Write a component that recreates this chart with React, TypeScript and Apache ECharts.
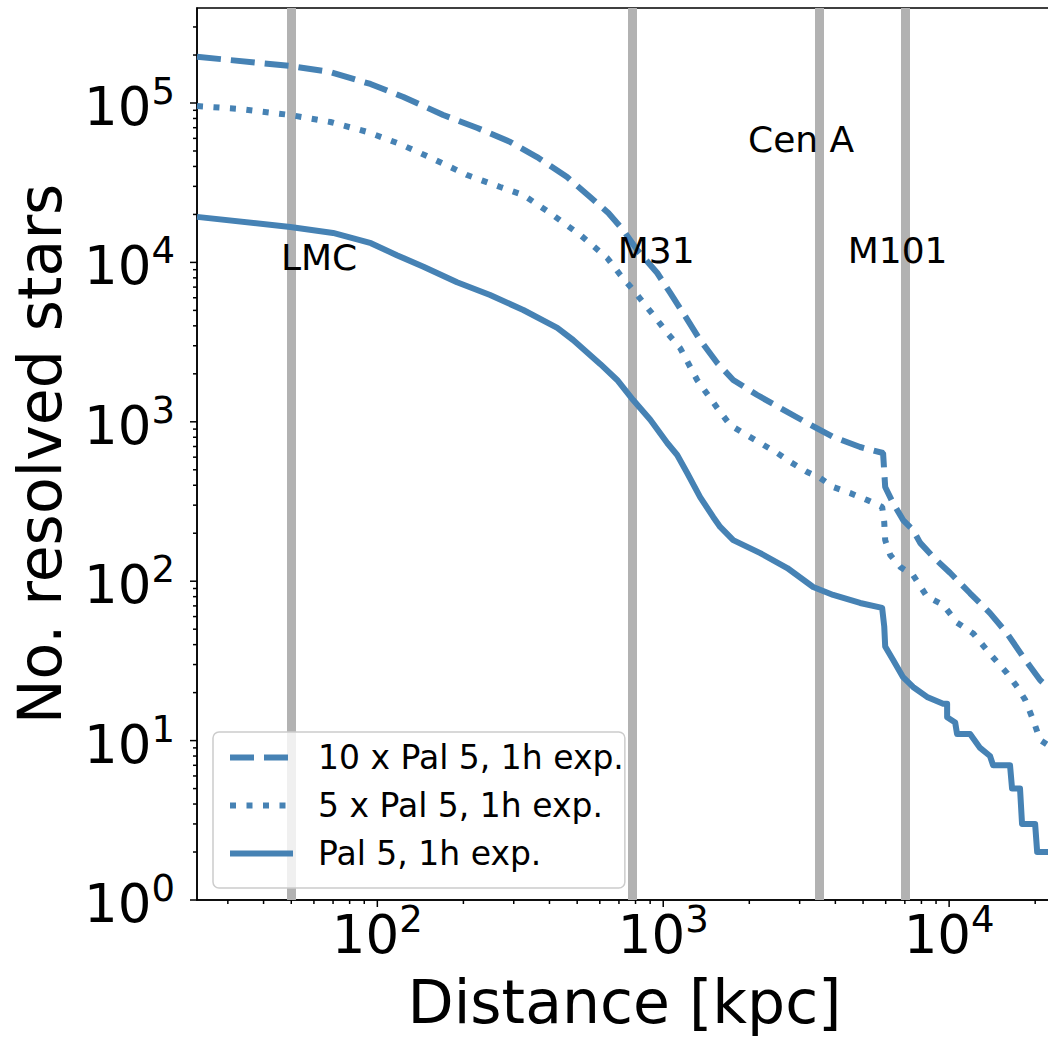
import React, { useEffect, useRef } from "react";
import * as echarts from "echarts";

const FONT = "DejaVu Sans";
const BLUE = "#4682b4";
const GREY = "#b2b2b2";

// Axis ranges
const X_MIN = 23.4;
const X_MAX = 22900;
const Y_MIN = 1;
const Y_MAX = 394500;

// Pal 5, 1h exposure
const pal5Dist = [
  23.4, 49.6, 70, 95, 117, 145, 190, 248, 324, 426, 484, 603, 690, 785, 901, 1033,
  1119, 1213, 1346, 1495, 1582, 1757, 2185, 2715, 3345, 3930, 4883, 5830, 5930, 5975,
  6370, 6900, 7480, 8370, 9530, 9840, 9840, 10500, 10660, 11840, 12830, 13900, 14250,
  16330, 16600, 17700, 17990, 19990, 20320, 23000,
];
const pal5Stars = [
  19300, 16700, 15300, 13200, 11100, 9400, 7500, 6240, 5030, 3880, 3260, 2300, 1830,
  1370, 1030, 736, 619, 477, 337, 253, 219, 181, 150, 121, 92, 82, 73, 68, 52, 39, 32,
  25, 21.7, 18.8, 17, 17, 14, 13, 11, 11, 9, 8, 7, 7, 5, 5, 3, 3, 2, 2,
];

// 5 x Pal 5, 1h exposure
const pal5x5Dist = [
  23.4, 33.2, 49.6, 68.5, 92.3, 120, 157, 206, 269, 324, 402, 513, 637, 708, 785, 923,
  1033, 1146, 1314, 1545, 1714, 1905, 2185, 2505, 2782, 3187, 3540, 3930, 4510, 5166,
  5832, 5929, 5975, 6223, 6745, 7480, 8372, 9528, 10660, 12140, 13900, 15950, 17300,
  18450, 19670, 20800, 22900,
];
const pal5x5Stars = [
  95700, 91700, 84100, 76000, 65800, 55300, 44550, 35330, 29720, 26480, 20400, 14860,
  10660, 8340, 6710, 4680, 3610, 2900, 1830, 1221, 955, 851, 736, 637, 560, 484, 444,
  390, 357, 323, 292, 235, 181, 146, 123, 109, 80, 71, 55, 47, 35, 26.5, 21.7, 18, 13.5,
  10.1, 9,
];

// 10 x Pal 5, 1h exposure
const pal5x10Dist = [
  23.4, 49.6, 68.5, 94.6, 123.4, 170, 224, 292, 362, 461, 555, 643, 724, 811, 953, 1058,
  1174, 1346, 1545, 1757, 2132, 2566, 3187, 3930, 4883, 5875, 5975, 6368, 6902, 7480,
  7920, 8790, 10070, 11840, 13900, 15950, 18150, 20800, 22900,
];
const pal5x10Stars = [
  195000, 170700, 156400, 131600, 109100, 84100, 69700, 56900, 45800, 34350, 25700,
  20400, 15960, 11960, 8580, 6430, 4815, 3260, 2340, 1830, 1473, 1221, 983, 803, 695,
  637, 390, 309, 242, 209, 174, 142, 113, 84, 63, 47, 33.5, 24, 20.5,
];

// Reference galaxies (kpc)
const galaxyNames = ["LMC", "M31", "Cen A", "M101"];
const galaxyDistances = [50, 780, 3500, 7000];
const galaxyLabelAnchors = [
  [46, 10700],
  [693, 11900],
  [1980, 59000],
  [4420, 11900],
];

// Legend entries
const seriesNames = ["10 x Pal 5, 1h exp.", "5 x Pal 5, 1h exp.", "Pal 5, 1h exp."];

// Tick values
const xMajorTicks = [100, 1000, 10000];
const xMinorTicks = [
  30, 40, 50, 60, 70, 80, 90, 200, 300, 400, 500, 600, 700, 800, 900, 2000, 3000, 4000,
  5000, 6000, 7000, 8000, 9000, 20000,
];
const yMajorTicks = [1, 10, 100, 1000, 10000, 100000];
const yMinorTicks: number[] = [];
for (let e = 0; e <= 5; e++) {
  for (let m = 2; m <= 9; m++) {
    const v = m * Math.pow(10, e);
    if (v < Y_MAX) yMinorTicks.push(v);
  }
}

const zip = (xs: number[], ys: number[]) => xs.map((x, i) => [x, ys[i]]);

function powerLabel(v: number): string {
  const e = Math.log10(v);
  const r = Math.round(e);
  if (Math.abs(e - r) > 1e-6) return "";
  return `{b|10}{s|${r}}`;
}

const richPow = {
  b: { fontSize: 53, fontFamily: FONT, color: "#000", lineHeight: 60, verticalAlign: "bottom" },
  s: { fontSize: 37, fontFamily: FONT, color: "#000", lineHeight: 37, verticalAlign: "top" },
};

function buildOption(): echarts.EChartsOption {
  const lineBase = {
    type: "line" as const,
    symbol: "none",
    showSymbol: false,
    silent: true,
    z: 3,
    itemStyle: { color: BLUE },
  };
  return {
    animation: false,
    backgroundColor: "#fff",
    grid: {
      left: 197,
      top: 8,
      width: 855,
      height: 892,
      show: true,
      borderColor: "#000",
      borderWidth: 1.5,
      backgroundColor: "transparent",
    },
    xAxis: {
      type: "log",
      logBase: 10,
      min: X_MIN,
      max: X_MAX,
      axisLine: { show: true, lineStyle: { color: "#000", width: 1.5 } },
      axisTick: { show: false },
      splitLine: { show: false },
      axisLabel: {
        formatter: (v: number) => powerLabel(v),
        rich: richPow as any,
        fontSize: 53,
        fontFamily: FONT,
        color: "#000",
        margin: 1,
      },
      name: "Distance [kpc]",
      nameLocation: "middle",
      nameGap: 72,
      nameTextStyle: { fontSize: 60, fontFamily: FONT, color: "#000" },
    },
    yAxis: {
      type: "log",
      logBase: 10,
      min: Y_MIN,
      max: Y_MAX,
      axisLine: { show: true, lineStyle: { color: "#000", width: 1.5 } },
      axisTick: { show: false },
      splitLine: { show: false },
      axisLabel: {
        formatter: (v: number) => powerLabel(v),
        rich: richPow as any,
        fontSize: 53,
        fontFamily: FONT,
        color: "#000",
        margin: 22,
      },
      name: "No. resolved stars",
      nameLocation: "middle",
      nameGap: 127,
      nameTextStyle: { fontSize: 60, fontFamily: FONT, color: "#000" },
    },
    legend: {
      data: seriesNames,
      orient: "vertical",
      left: 213,
      top: 732,
      itemWidth: 63,
      itemHeight: 14,
      itemGap: 15,
      padding: [9, 1, 18, 14],
      backgroundColor: "rgba(255,255,255,0.8)",
      borderColor: "#cccccc",
      borderWidth: 1.5,
      borderRadius: 6,
      lineStyle: { width: 6 },
      itemStyle: { color: "rgba(0,0,0,0)", borderWidth: 0, borderColor: "rgba(0,0,0,0)" },
      textStyle: { fontSize: 33, fontFamily: FONT, color: "#000", padding: [0, 0, 0, 20] },
      selectedMode: false,
    },
    series: [
      {
        type: "line",
        name: "galaxies",
        data: [],
        silent: true,
        z: 1,
        markLine: {
          silent: true,
          z: 1,
          symbol: ["none", "none"],
          label: { show: false },
          lineStyle: { color: GREY, width: 9, type: "solid" },
          emphasis: { disabled: true },
          data: galaxyDistances.map((d) => ({ xAxis: d })),
        },
      } as any,
      {
        ...lineBase,
        name: seriesNames[0],
        data: zip(pal5x10Dist, pal5x10Stars),
        lineStyle: { color: BLUE, width: 6, type: [24, 10], cap: "butt" },
      },
      {
        ...lineBase,
        name: seriesNames[1],
        data: zip(pal5x5Dist, pal5x5Stars),
        lineStyle: { color: BLUE, width: 6, type: [6, 10.5], cap: "butt" },
      },
      {
        ...lineBase,
        name: seriesNames[2],
        data: zip(pal5Dist, pal5Stars),
        lineStyle: { color: BLUE, width: 6, type: "solid", join: "round" },
      },
      {
        type: "scatter",
        name: "galaxy labels",
        silent: true,
        symbolSize: 0,
        z: 4,
        itemStyle: { opacity: 1 },
        data: galaxyLabelAnchors.map((p, i) => ({ value: p, name: galaxyNames[i] })),
        label: {
          show: true,
          formatter: "{b}",
          position: "right",
          distance: 0,
          align: "left",
          verticalAlign: "middle",
          fontSize: 36,
          fontFamily: FONT,
          color: "#000",
          opacity: 1,
          textBorderWidth: 0,
        },
      },
      {
        type: "custom",
        name: "x ticks",
        silent: true,
        clip: false,
        z: 6,
        encode: { x: 0, y: 1 },
        data: [
          ...xMajorTicks.map((v) => [v, Y_MIN, 1]),
          ...xMinorTicks.map((v) => [v, Y_MIN, 0]),
        ],
        renderItem: (params: any, api: any) => {
          const p = api.coord([api.value(0), Y_MIN]);
          const len = api.value(2) ? 7 : 4;
          return {
            type: "line",
            shape: { x1: p[0], y1: p[1], x2: p[0], y2: p[1] + len },
            style: { stroke: "#000", lineWidth: 1.5 },
          };
        },
      } as any,
      {
        type: "custom",
        name: "y ticks",
        silent: true,
        clip: false,
        z: 6,
        encode: { x: 0, y: 1 },
        data: [
          ...yMajorTicks.map((v) => [X_MIN, v, 1]),
          ...yMinorTicks.map((v) => [X_MIN, v, 0]),
        ],
        renderItem: (params: any, api: any) => {
          const p = api.coord([X_MIN, api.value(1)]);
          const len = api.value(2) ? 7 : 4;
          return {
            type: "line",
            shape: { x1: p[0], y1: p[1], x2: p[0] - len, y2: p[1] },
            style: { stroke: "#000", lineWidth: 1.5 },
          };
        },
      } as any,
    ],
  };
}

export default function App() {
  const ref = useRef<HTMLDivElement>(null);
  useEffect(() => {
    if (!ref.current) return;
    const chart = echarts.init(ref.current, null, { renderer: "svg" });
    chart.setOption(buildOption());
    return () => chart.dispose();
  }, []);
  return (
    <div
      style={{
        position: "fixed",
        left: 0,
        top: 0,
        width: 1048,
        height: 1038,
        overflow: "hidden",
        background: "#fff",
      }}
    >
      <div ref={ref} style={{ width: 1060, height: 1038 }} />
    </div>
  );
}
